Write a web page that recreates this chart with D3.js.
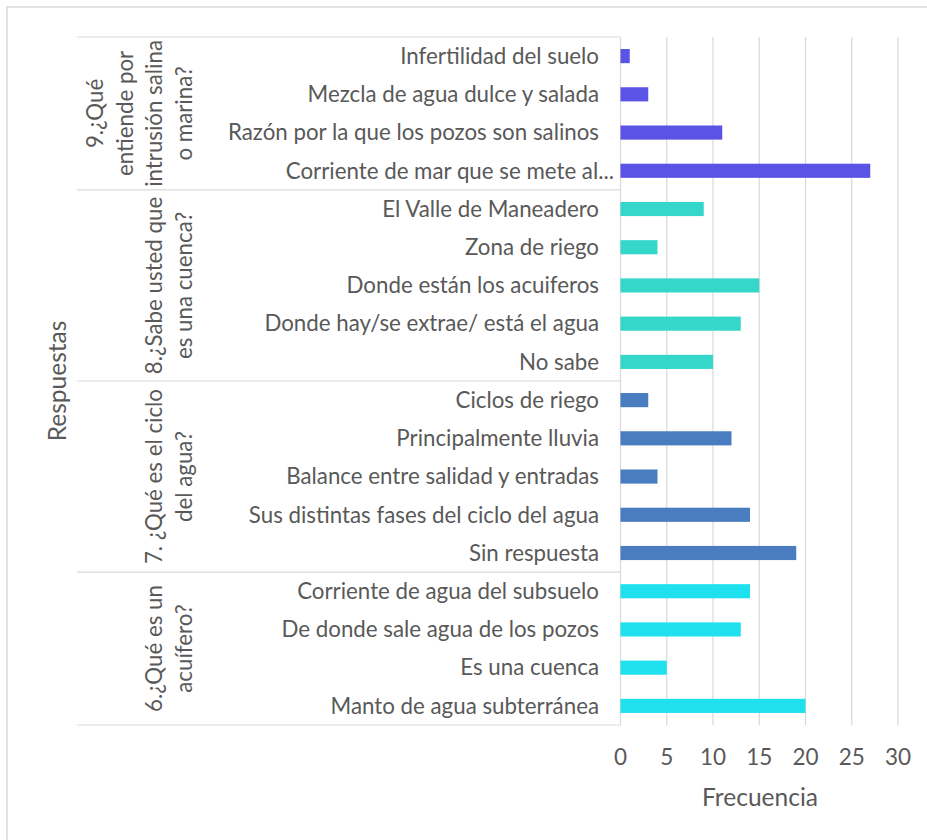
<!DOCTYPE html>
<html>
<head>
<meta charset="utf-8">
<script src="https://cdn.jsdelivr.net/npm/d3@7"></script>
<style>
  html, body { margin: 0; padding: 0; background: #fff; }
  svg { display: block; }
  text { font-family: Lato, "Open Sans", sans-serif; fill: #595959; }
</style>
</head>
<body>
<svg id="chart" width="927" height="840"></svg>
<script>
// Survey answers, top to bottom, grouped by question
const questions = [
  ["9.¿Qué", "entiende por", "intrusión salina", "o marina?"],
  ["8.¿Sabe usted que", "es una cuenca?"],
  ["7. ¿Qué es el ciclo", "del agua?"],
  ["6.¿Qué es un", "acuífero?"]
];
const questionColors = ["#5a53e6", "#35d7ca", "#4a7dc0", "#1fe1ee"];

const answers = [
  "Infertilidad del suelo",
  "Mezcla de agua dulce y salada",
  "Razón por la que los pozos son salinos",
  "Corriente de mar que se mete al...",
  "El Valle de Maneadero",
  "Zona de riego",
  "Donde están los acuiferos",
  "Donde hay/se extrae/ está el agua",
  "No sabe",
  "Ciclos de riego",
  "Principalmente lluvia",
  "Balance entre salidad y entradas",
  "Sus distintas fases del ciclo del agua",
  "Sin respuesta",
  "Corriente de agua del subsuelo",
  "De donde sale agua de los pozos",
  "Es una cuenca",
  "Manto de agua subterránea"
];
const answerQuestion = [0,0,0,0, 1,1,1,1,1, 2,2,2,2,2, 3,3,3,3];
const frequencies = [1, 3, 11, 27, 9, 4, 15, 13, 10, 3, 12, 4, 14, 19, 14, 13, 5, 20];

const xTicks = [0, 5, 10, 15, 20, 25, 30];
const xTitle = "Frecuencia";
const yTitle = "Respuestas";

const svg = d3.select("#chart");

// chart frame
svg.append("rect")
  .attr("x", 7).attr("y", 7).attr("width", 960).attr("height", 900)
  .attr("fill", "none").attr("stroke", "#d9d9d9").attr("stroke-width", 1.5);

const plot = { left: 620.5, right: 898, top: 37, bottom: 725 };
const labelLeft = 77;

const x = d3.scaleLinear().domain([0, 30]).range([plot.left, plot.right]);
const y = d3.scaleBand()
  .domain(d3.range(answers.length))
  .range([plot.top, plot.bottom])
  .paddingInner(0.63)
  .paddingOuter(0.315);

// vertical gridlines
svg.append("g")
  .selectAll("line")
  .data(xTicks.filter(t => t > 0))
  .join("line")
  .attr("x1", d => x(d)).attr("x2", d => x(d))
  .attr("y1", plot.top).attr("y2", plot.bottom)
  .attr("stroke", "#d9d9d9").attr("stroke-width", 1.2);

// category axis line
svg.append("line")
  .attr("x1", plot.left).attr("x2", plot.left)
  .attr("y1", plot.top).attr("y2", plot.bottom)
  .attr("stroke", "#d9d9d9").attr("stroke-width", 1.2);

// group boundaries on the category axis
const bounds = [0];
answerQuestion.forEach((q, i) => { if (i > 0 && q !== answerQuestion[i - 1]) bounds.push(i); });
bounds.push(answers.length);
const step = y.step();
const rowEdge = i => plot.top + i * step;

svg.append("g")
  .selectAll("line")
  .data(bounds)
  .join("line")
  .attr("x1", labelLeft).attr("x2", plot.left)
  .attr("y1", d => rowEdge(d)).attr("y2", d => rowEdge(d))
  .attr("stroke", "#d9d9d9").attr("stroke-width", 1.2);

// bars
svg.append("g")
  .selectAll("rect")
  .data(frequencies)
  .join("rect")
  .attr("x", x(0))
  .attr("y", (d, i) => y(i))
  .attr("width", d => x(d) - x(0))
  .attr("height", y.bandwidth())
  .attr("fill", (d, i) => questionColors[answerQuestion[i]]);

// answer labels
svg.append("g")
  .selectAll("text")
  .data(answers)
  .join("text")
  .attr("x", d => d.endsWith("...") ? 614 : 599)
  .attr("y", (d, i) => y(i) + y.bandwidth() / 2)
  .attr("dy", "0.35em")
  .attr("text-anchor", "end")
  .style("font-size", "22.3px")
  .text(d => d);

// question labels, rotated, one line per tspan
const lineGap = 29.5;
questions.forEach((lines, q) => {
  const cy = (rowEdge(bounds[q]) + rowEdge(bounds[q + 1])) / 2;
  const g = svg.append("g").attr("transform", `translate(0,${cy}) rotate(-90)`);
  g.selectAll("text")
    .data(lines)
    .join("text")
    .attr("x", 0)
    .attr("y", (d, i) => 184 - (lines.length - 1 - i) * lineGap)
    .attr("dy", "0.35em")
    .attr("text-anchor", "middle")
    .style("font-size", "22.3px")
    .text(d => d);
});

// value axis tick labels
svg.append("g")
  .selectAll("text")
  .data(xTicks)
  .join("text")
  .attr("x", d => x(d))
  .attr("y", 757)
  .attr("dy", "0.35em")
  .attr("text-anchor", "middle")
  .style("font-size", "22.5px")
  .text(d => d);

// axis titles
svg.append("text")
  .attr("x", 760).attr("y", 797).attr("dy", "0.35em")
  .attr("text-anchor", "middle")
  .style("font-size", "24.5px")
  .text(xTitle);

svg.append("text")
  .attr("transform", "translate(57,381) rotate(-90)")
  .attr("dy", "0.35em")
  .attr("text-anchor", "middle")
  .style("font-size", "24.5px")
  .text(yTitle);
</script>
</body>
</html>
